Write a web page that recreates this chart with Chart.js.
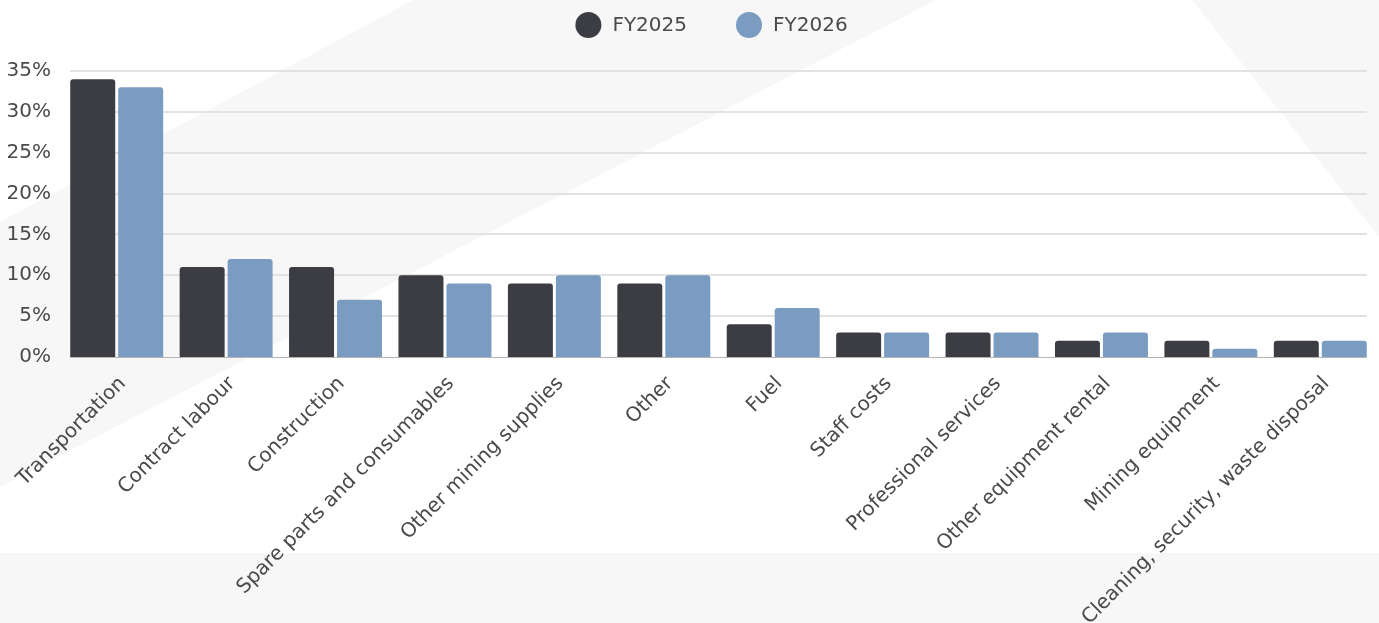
<!DOCTYPE html>
<html>
<head>
<meta charset="utf-8">
<title>Spend by category</title>
<script src="https://cdn.jsdelivr.net/npm/chart.js@4.4.1/dist/chart.umd.min.js"></script>
<style>
  html, body { margin: 0; padding: 0; background: #fff; }
  canvas { display: block; }
</style>
</head>
<body>
<canvas id="spend" width="1379" height="623"></canvas>
<script>
// Share of spend by category, FY2025 vs FY2026 (%)
const categories = [
  "Transportation", "Contract labour", "Construction", "Spare parts and consumables",
  "Other mining supplies", "Other", "Fuel", "Staff costs", "Professional services",
  "Other equipment rental", "Mining equipment", "Cleaning, security, waste disposal"
];
const fy2025 = [34, 11, 11, 10, 9, 9, 4, 3, 3, 2, 2, 2];
const fy2026 = [33, 12, 7, 9, 10, 10, 6, 3, 3, 3, 1, 2];
const yTicks = [0, 5, 10, 15, 20, 25, 30, 35];

const FONT = "'DejaVu Sans', sans-serif";
const TEXT = '#4a4a4a';
const GREY_BG = '#f7f7f8';

// white page with pale grey diagonal band, corner wedge and footer strip
const backdrop = {
  id: 'backdrop',
  beforeDraw(chart) {
    const { ctx, width, height } = chart;
    ctx.save();
    ctx.fillStyle = '#fff';
    ctx.fillRect(0, 0, width, height);
    ctx.fillStyle = GREY_BG;
    ctx.beginPath();
    ctx.moveTo(413, 0); ctx.lineTo(936, 0); ctx.lineTo(0, 487); ctx.lineTo(0, 222);
    ctx.closePath();
    ctx.fill();
    ctx.beginPath();
    ctx.moveTo(1192, 0); ctx.lineTo(width, 0); ctx.lineTo(width, 237);
    ctx.closePath();
    ctx.fill();
    ctx.fillRect(0, 553, width, height - 553);
    ctx.restore();
  }
};

// horizontal grid only spans the bars, zero line a bit darker
const gridLines = {
  id: 'gridLines',
  beforeDatasetsDraw(chart) {
    const { ctx, scales: { y } } = chart;
    const first = chart.getDatasetMeta(0).data[0];
    const lastMeta = chart.getDatasetMeta(chart.data.datasets.length - 1).data;
    const last = lastMeta[lastMeta.length - 1];
    const x0 = first.x - first.width / 2;
    const x1 = last.x + last.width / 2;
    ctx.save();
    yTicks.forEach(v => {
      const py = Math.round(y.getPixelForValue(v));
      ctx.beginPath();
      ctx.strokeStyle = v === 0 ? '#b4b4b4' : '#e2e2e2';
      ctx.lineWidth = v === 0 ? 1 : 2;
      ctx.moveTo(x0, v === 0 ? py + 0.5 : py);
      ctx.lineTo(x1, v === 0 ? py + 0.5 : py);
      ctx.stroke();
    });
    ctx.restore();
  }
};

// round dot legend centred above the plot
const dotLegend = {
  id: 'dotLegend',
  afterDraw(chart) {
    const { ctx, chartArea } = chart;
    const r = 13, gap = 11, spacing = 49, cy = 25;
    ctx.save();
    ctx.font = '20px ' + FONT;
    const items = chart.data.datasets.map(ds => ({
      label: ds.label,
      color: ds.backgroundColor,
      w: 2 * r + gap + ctx.measureText(ds.label).width
    }));
    const total = items.reduce((s, it) => s + it.w, 0) + spacing * (items.length - 1);
    let x = (chartArea.left + chartArea.right) / 2 - 7 - total / 2;
    items.forEach(it => {
      ctx.fillStyle = it.color;
      ctx.beginPath();
      ctx.arc(x + r, cy, r, 0, Math.PI * 2);
      ctx.fill();
      ctx.fillStyle = TEXT;
      ctx.textBaseline = 'middle';
      ctx.textAlign = 'left';
      ctx.fillText(it.label, x + 2 * r + gap, cy + 1);
      x += it.w + spacing;
    });
    ctx.restore();
  }
};

new Chart(document.getElementById('spend'), {
  type: 'bar',
  data: {
    labels: categories,
    datasets: [
      { label: 'FY2025', data: fy2025, backgroundColor: '#3c3d42' },
      { label: 'FY2026', data: fy2026, backgroundColor: '#7a9cc0' }
    ]
  },
  options: {
    responsive: false,
    animation: false,
    layout: { padding: { top: 71, right: 4, left: 0, bottom: 0 } },
    datasets: {
      bar: { categoryPercentage: 0.877, barPercentage: 0.9375, borderRadius: 3 }
    },
    plugins: {
      legend: { display: false },
      tooltip: { enabled: false }
    },
    scales: {
      x: {
        grid: { display: false, drawTicks: false },
        border: { display: false },
        ticks: {
          autoSkip: false, maxRotation: 45, minRotation: 45,
          color: TEXT, font: { family: FONT, size: 20 },
          padding: 15, labelOffset: 6
        },
        afterFit(scale) {
          // slanted labels may overhang the y axis; keep the plot edges fixed
          scale.height = 266;
          scale.paddingLeft = 0;
          scale.paddingRight = 0;
        }
      },
      y: {
        min: 0, max: 35,
        afterBuildTicks(scale) { scale.ticks = yTicks.map(v => ({ value: v })); },
        grid: { display: false, drawTicks: false },
        border: { display: false },
        ticks: {
          color: TEXT, font: { family: FONT, size: 20 }, padding: 11,
          callback: v => v + '%'
        },
        afterFit(scale) { scale.width = 62; }
      }
    }
  },
  plugins: [backdrop, gridLines, dotLegend]
});
</script>
</body>
</html>
